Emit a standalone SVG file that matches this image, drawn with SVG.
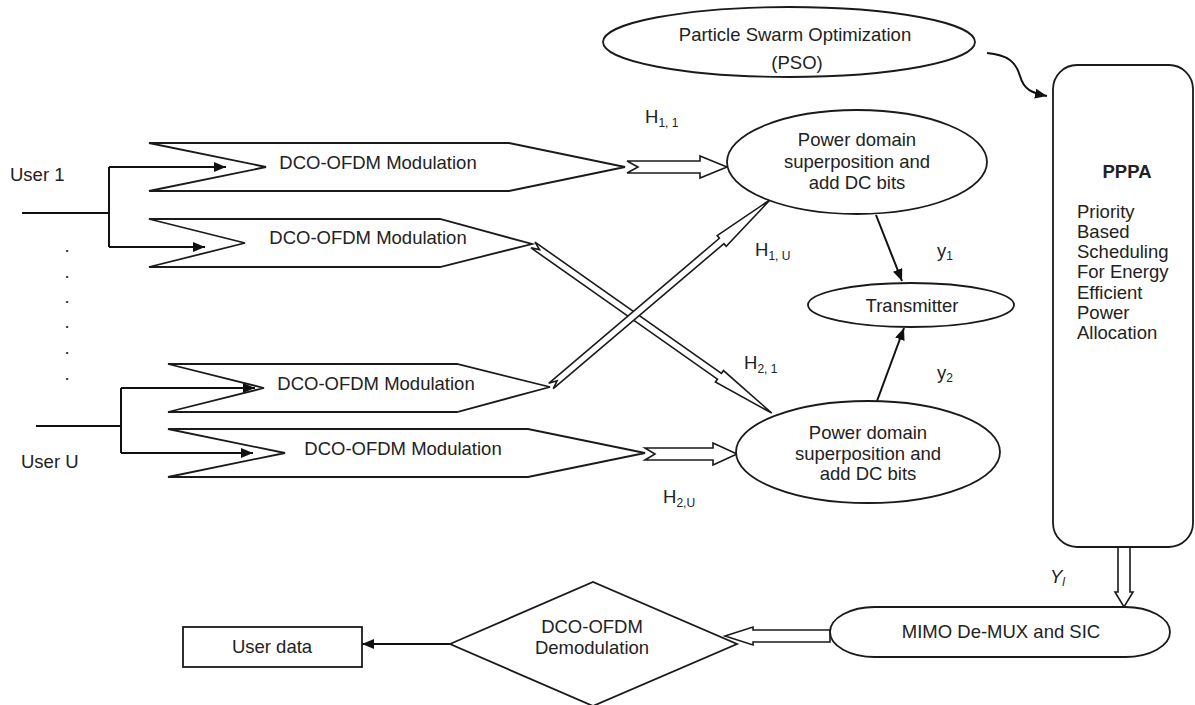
<svg xmlns="http://www.w3.org/2000/svg" width="1195" height="705" viewBox="0 0 1195 705">
<defs>
<style>
text{font-family:"Liberation Sans",Arial,sans-serif;font-size:18.5px;fill:#222}
.c{text-anchor:middle}
.shape{fill:#fff;stroke:#1a1a1a;stroke-width:1.8}
.line{fill:none;stroke:#111;stroke-width:2}
.hollow{fill:#fff;stroke:#1a1a1a;stroke-width:1.6;stroke-linejoin:miter}
.sub{font-size:12px}
</style>
<marker id="ah" viewBox="0 0 12 10" refX="12" refY="5" markerWidth="12" markerHeight="10" markerUnits="userSpaceOnUse" orient="auto">
<path d="M0,0 L12,5 L0,10 z" fill="#111"/>
</marker>
</defs>
<rect width="1195" height="705" fill="#fff"/>

<g id="connectors">
<path class="line" d="M22,213 H109 M109,167 V247" />
<path class="line" d="M109,167 H226" marker-end="url(#ah)"/>
<path class="line" d="M109,247 H205" marker-end="url(#ah)"/>
<path class="line" d="M36,426 H121 M121,388 V453" />
<path class="line" d="M121,388 H255" marker-end="url(#ah)"/>
<path class="line" d="M121,453 H253" marker-end="url(#ah)"/>
<path class="line" d="M987,53 C1008,55 1016,62 1020,76 C1024,90 1032,93 1047,96" marker-end="url(#ah)"/>
<path class="line" d="M876,215 L902,281" marker-end="url(#ah)"/>
<path class="line" d="M877,401 L904,328" marker-end="url(#ah)"/>
<path class="line" d="M450,644 L362,644" marker-end="url(#ah)"/>
<polygon class="hollow" points="627,161 700,161 700,156 727,167 700,178 700,173 627,173 638,167"/>
<polygon class="hollow" points="645,448 713,448 713,443 737,454 713,465 713,460 645,460 655,454"/>
<polygon class="hollow" transform="translate(533,245) rotate(35.15)" points="0,-3.5 228,-3.5 228,-7 292,0 228,7 228,3.5 0,3.5 8,0"/>
<polygon class="hollow" transform="translate(551,386) rotate(-40.36)" points="0,-3.5 224,-3.5 224,-7 288,0 224,7 224,3.5 0,3.5 8,0"/>
<polygon class="hollow" points="1118,547 1130,547 1130,592 1133,592 1124,607 1115,592 1118,592"/>
<polygon class="hollow" points="830,630 753,630 753,627 725,636 753,645 753,642 830,642"/>
</g>

<g id="user1"><text x="10" y="181">User 1</text></g>
<g id="userU"><text x="21" y="468">User U</text></g>
<g id="dots">
<text class="c" x="67" y="252">.</text>
<text class="c" x="67" y="278">.</text>
<text class="c" x="67" y="303">.</text>
<text class="c" x="67" y="328">.</text>
<text class="c" x="67" y="354">.</text>
<text class="c" x="67" y="380">.</text>
</g>

<g id="mod1">
<polygon class="shape" points="149,143 509,143 625,167 509,191 149,191 266,167"/>
<text class="c" x="378" y="169">DCO-OFDM Modulation</text>
</g>
<g id="mod2">
<polygon class="shape" points="149,219 440,219 532,244 440,267 149,267 245,243"/>
<text class="c" x="368" y="244">DCO-OFDM Modulation</text>
</g>
<g id="mod3">
<polygon class="shape" points="168,364 457,364 550,387 457,412 168,412 264,388"/>
<text class="c" x="376" y="390">DCO-OFDM Modulation</text>
</g>
<g id="mod4">
<polygon class="shape" points="168,429 528,429 645,453 528,477 168,477 285,453"/>
<text class="c" x="403" y="455">DCO-OFDM Modulation</text>
</g>

<g id="pso">
<ellipse class="shape" cx="789" cy="42" rx="186" ry="35"/>
<text class="c" x="795" y="41">Particle Swarm Optimization</text>
<text class="c" x="797" y="69">(PSO)</text>
</g>

<g id="pd1">
<ellipse class="shape" cx="857" cy="162" rx="130" ry="52"/>
<text class="c" x="857" y="146">Power domain</text>
<text class="c" x="857" y="168">superposition and</text>
<text class="c" x="857" y="189">add DC bits</text>
</g>

<g id="transmitter">
<ellipse class="shape" cx="911" cy="305" rx="103" ry="22"/>
<text class="c" x="912" y="312">Transmitter</text>
</g>

<g id="pd2">
<ellipse class="shape" cx="868" cy="452" rx="132" ry="51"/>
<text class="c" x="868" y="439">Power domain</text>
<text class="c" x="868" y="460">superposition and</text>
<text class="c" x="868" y="480">add DC bits</text>
</g>

<g id="pppa">
<rect class="shape" x="1053" y="65" width="140" height="482" rx="24" ry="24"/>
<text class="c" x="1127" y="178" font-weight="bold">PPPA</text>
<text x="1077" y="218">Priority</text>
<text x="1077" y="238">Based</text>
<text x="1077" y="258">Scheduling</text>
<text x="1077" y="278">For Energy</text>
<text x="1077" y="299">Efficient</text>
<text x="1077" y="319">Power</text>
<text x="1077" y="339">Allocation</text>
</g>

<g id="mimo">
<rect class="shape" x="830" y="607" width="340" height="50" rx="45" ry="25"/>
<text class="c" x="1001" y="638">MIMO De-MUX and SIC</text>
</g>

<g id="demod">
<polygon class="shape" points="450,644 593,582 737,644 593,706"/>
<text class="c" x="592" y="633">DCO-OFDM</text>
<text class="c" x="592" y="654">Demodulation</text>
</g>

<g id="userdata">
<rect class="shape" x="183" y="627" width="179" height="40"/>
<text class="c" x="272" y="653">User data</text>
</g>

<g id="labels">
<text x="645" y="123">H<tspan class="sub" dy="4">1, 1</tspan></text>
<text x="755" y="256">H<tspan class="sub" dy="4">1, U</tspan></text>
<text x="744" y="369">H<tspan class="sub" dy="4">2, 1</tspan></text>
<text x="663" y="503">H<tspan class="sub" dy="4">2,U</tspan></text>
<text x="937" y="257">y<tspan class="sub" dy="3">1</tspan></text>
<text x="937" y="379">y<tspan class="sub" dy="3">2</tspan></text>
<text x="1050" y="583" font-style="italic">Y<tspan class="sub" dy="3">l</tspan></text>
</g>
</svg>
